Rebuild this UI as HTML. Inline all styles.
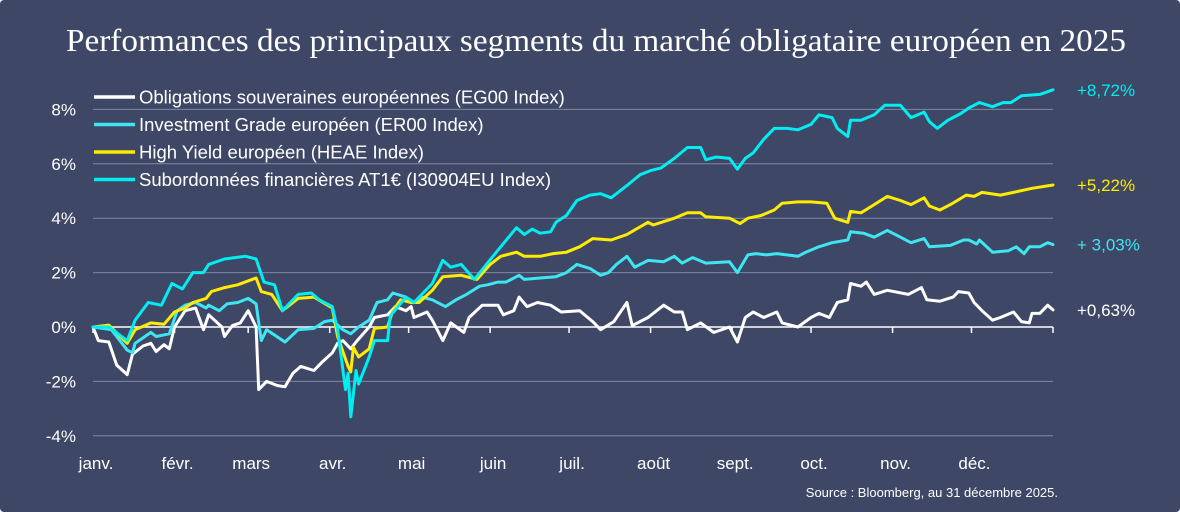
<!DOCTYPE html>
<html><head><meta charset="utf-8"><style>
html,body{margin:0;padding:0;background:#fff;}
#wrap{position:relative;width:1180px;height:512px;background:#3e4766;overflow:hidden;border-radius:4px;}
svg{position:absolute;left:0;top:0;}
text{font-family:"Liberation Sans",sans-serif;}
</style></head><body>
<div id="wrap">
<svg id="chart" width="1180" height="512">
<text x="596" y="51" text-anchor="middle" fill="#fff" font-size="32" style="font-family:'Liberation Serif',serif" textLength="1060" lengthAdjust="spacingAndGlyphs">Performances des principaux segments du marché obligataire européen en 2025</text>
<g id="grid"></g><g id="axes"></g><g id="series"></g><g id="legend"></g><g id="endlabels"></g>
<text x="1058" y="497" text-anchor="end" fill="#fff" font-size="13">Source : Bloomberg, au 31 décembre 2025.</text>
</svg>
</div>
<script>
const yTicks=[8,6,4,2,0,-2,-4];
const yTickLabels=["8%","6%","4%","2%","0%","-2%","-4%"];
const monthStarts=[0,31,59,90,120,151,181,212,243,273,304,334,365];
const monthLabels=["janv.","févr.","mars","avr.","mai","juin","juil.","août","sept.","oct.","nov.","déc."];
const seriesNames=["Obligations souveraines européennes (EG00 Index)","Investment Grade européen (ER00 Index)","High Yield européen (HEAE Index)","Subordonnées financières AT1€ (I30904EU Index)"];
const endLabels=["+0,63%","+ 3,03%","+5,22%","+8,72%"];
const egDays=[0,2,6,9,13,15,19,22,24,27,29,31,35,39,42,44,49,50,53,56,59,62,63,66,70,73,76,79,84,87,91,93,95,98,100,105,107,112,115,119,121,122,127,129,133,136,141,143,148,154,156,160,162,165,169,174,178,185,190,193,198,203,205,211,217,221,224,226,231,236,242,245,248,251,255,260,262,268,273,276,280,283,287,288,292,294,297,302,310,315,317,322,327,329,333,335,338,342,345,350,353,356,357,360,363,365];
const egValues=[0,-0.5,-0.55,-1.4,-1.75,-1.0,-0.7,-0.6,-0.9,-0.65,-0.8,0,0.6,0.7,-0.1,0.45,0,-0.35,0.05,0.15,0.6,0,-2.3,-2.0,-2.15,-2.2,-1.7,-1.45,-1.6,-1.3,-0.95,-0.6,-0.5,-0.8,-0.55,0,0.35,0.45,0.75,0.6,0.75,0.35,0.55,0.25,-0.5,0.15,-0.2,0.35,0.8,0.8,0.45,0.6,1.1,0.75,0.9,0.8,0.55,0.6,0.2,-0.1,0.2,0.9,0.05,0.35,0.8,0.55,0.55,-0.1,0.15,-0.2,0,-0.55,0.35,0.55,0.35,0.55,0.15,0,0.35,0.5,0.35,0.9,1.0,1.6,1.5,1.65,1.2,1.35,1.2,1.45,1.0,0.95,1.1,1.3,1.25,0.9,0.6,0.25,0.35,0.55,0.2,0.15,0.5,0.5,0.8,0.63];
const igDays=[0,7,13,15,16,22,24,29,32,35,39,43,44,48,51,55,59,62,64,66,73,78,84,88,91,95,98,101,105,108,112,114,119,122,125,129,134,138,142,147,150,154,157,162,164,170,176,180,184,189,193,196,199,203,206,211,217,221,224,228,233,242,245,249,252,256,260,268,271,276,281,287,288,293,297,302,307,311,316,318,326,331,333,336,337,342,348,351,354,356,360,363,365];
const igValues=[0,-0.1,-0.85,-0.95,-0.6,-0.2,-0.35,-0.25,0.6,0.8,0.9,0.7,0.8,0.6,0.85,0.9,1.05,0.85,-0.5,-0.1,-0.55,-0.1,-0.05,0.2,0.25,-0.1,-0.25,0,0.25,0.9,1.0,1.25,1.1,0.9,1.1,1.0,0.75,1.0,1.2,1.5,1.55,1.65,1.65,1.9,1.75,1.8,1.85,2.0,2.3,2.15,1.9,2.0,2.3,2.6,2.2,2.45,2.4,2.6,2.35,2.55,2.35,2.4,2.0,2.65,2.7,2.65,2.7,2.6,2.75,2.95,3.1,3.2,3.5,3.45,3.3,3.55,3.3,3.1,3.25,2.95,3.0,3.2,3.2,3.05,3.2,2.75,2.8,2.95,2.7,2.95,2.95,3.1,3.03];
const hyDays=[0,6,13,16,22,27,31,35,38,43,45,50,55,62,64,68,72,78,84,91,93,97,98,99,101,105,107,112,114,117,121,124,129,133,140,146,151,155,161,164,170,175,180,185,190,197,203,211,213,221,226,231,233,242,246,249,254,259,262,268,273,279,282,287,288,292,297,302,307,311,316,318,322,326,332,335,338,345,350,357,365];
const hyValues=[0,0.07,-0.6,-0.1,0.15,0.1,0.55,0.7,0.9,1.05,1.3,1.45,1.55,1.8,1.3,1.2,0.6,1.05,1.1,0.7,-0.35,-1.45,-1.65,-0.75,-1.1,-0.8,-0.05,0,0.6,1.0,0.9,0.9,1.35,1.85,1.9,1.75,2.3,2.6,2.75,2.6,2.6,2.7,2.75,2.95,3.25,3.2,3.4,3.85,3.75,4.0,4.2,4.2,4.05,4.0,3.8,4.0,4.1,4.3,4.55,4.6,4.6,4.55,4.0,3.85,4.25,4.2,4.5,4.8,4.65,4.5,4.75,4.45,4.3,4.5,4.85,4.8,4.95,4.85,4.95,5.1,5.22];
const at1Days=[0,6,13,16,21,26,30,34,38,42,44,50,58,62,65,69,72,78,83,86,91,93,96,97,98,100,101,105,107,112,113,119,122,129,133,136,140,145,150,155,161,164,167,170,174,176,180,184,189,193,197,203,208,212,216,221,226,231,233,237,242,245,248,251,255,259,264,268,273,276,281,283,287,288,292,297,301,307,311,316,318,321,325,330,333,337,342,346,349,353,360,365];
const at1Values=[0,0,-0.5,0.25,0.9,0.8,1.6,1.4,2.0,2.0,2.3,2.5,2.6,2.5,1.65,1.55,0.6,1.2,1.25,1.0,0.75,-0.1,-2.3,-1.7,-3.3,-1.6,-2.1,-1.1,-0.5,-0.5,0.4,1.1,0.9,1.6,2.45,2.2,2.3,1.75,2.35,2.95,3.65,3.4,3.6,3.45,3.5,3.85,4.1,4.65,4.85,4.9,4.75,5.2,5.6,5.75,5.85,6.2,6.6,6.6,6.15,6.25,6.2,5.8,6.2,6.4,6.9,7.3,7.3,7.25,7.45,7.8,7.7,7.3,7.0,7.6,7.6,7.8,8.15,8.15,7.7,7.9,7.55,7.3,7.6,7.85,8.05,8.25,8.1,8.25,8.25,8.5,8.55,8.72];

const NS="http://www.w3.org/2000/svg";
const X0=93,X1=1053,Y0=327,PER=27.2;
function xs(d){return X0+(X1-X0)*d/365;}
function ys(v){return Y0-v*PER;}
function mk(tag,attrs,parent){const e=document.createElementNS(NS,tag);for(const k in attrs)e.setAttribute(k,attrs[k]);parent.appendChild(e);return e;}
const grid=document.getElementById('grid'),axes=document.getElementById('axes'),ser=document.getElementById('series'),leg=document.getElementById('legend'),endg=document.getElementById('endlabels');
yTicks.forEach((t,i)=>{
  if(t!==0){const l=mk('line',{x1:X0,x2:X1,y1:ys(t),y2:ys(t),stroke:'#7f87a2','stroke-width':1},grid);
  
  }
  const tx=mk('text',{x:76,y:ys(t)+6,'text-anchor':'end',fill:'#fff','font-size':17},axes);
  tx.textContent=yTickLabels[i];
  
  
});
const zl=mk('line',{x1:X0,x2:X1,y1:Y0,y2:Y0,stroke:'#fff','stroke-width':1.5},axes);


monthStarts.forEach((d,i)=>{
  const tk=mk('line',{x1:xs(d),x2:xs(d),y1:Y0,y2:Y0+6,stroke:'#fff','stroke-width':1.5},axes);
  
  
  if(i<monthLabels.length){const tx=mk('text',{x:xs(d)+3,y:469,'text-anchor':'middle',fill:'#fff','font-size':17},axes);
  tx.textContent=monthLabels[i];
  
  }
});
const defs=[[egDays,egValues,'#ffffff','series-eg00'],[igDays,igValues,'#3ee6f2','series-er00'],[hyDays,hyValues,'#ffec00','series-heae'],[at1Days,at1Values,'#00eef2','series-at1']];
defs.forEach((s,i)=>{
  const pts=s[0].map((d,j)=>xs(d).toFixed(1)+','+ys(s[1][j]).toFixed(1)).join(' ');
  const p=mk('polyline',{points:pts,fill:'none',stroke:s[2],'stroke-width':3,'stroke-linejoin':'round','stroke-linecap':'round'},ser);
  
  
  const ly=97+i*27.5;
  const ll=mk('line',{x1:94,x2:135,y1:ly,y2:ly,stroke:s[2],'stroke-width':3.5},leg);
  
  
  const lt=mk('text',{x:139,y:ly+6.5,fill:'#fff','font-size':18.5},leg);
  lt.textContent=seriesNames[i];
  
  
  const v=s[1][s[1].length-1];
  const et=mk('text',{x:1077,y:ys(v)+6,fill:s[2],'font-size':17},endg);
  et.textContent=endLabels[i];
  
  
});
</script>
</body></html>
